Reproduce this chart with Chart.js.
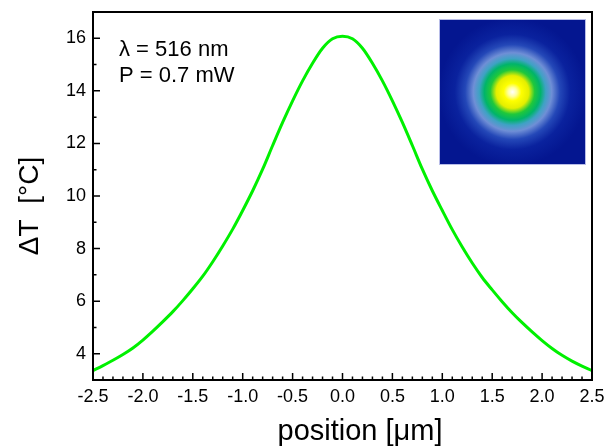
<!DOCTYPE html>
<html>
<head>
<meta charset="utf-8">
<script src="https://cdn.jsdelivr.net/npm/chart.js@4.4.1/dist/chart.umd.min.js"></script>
<style>
  html, body { margin: 0; padding: 0; background: #fff; }
  #wrap { width: 606px; height: 446px; }
</style>
</head>
<body>
<div id="wrap"><canvas id="myChart"></canvas></div>
<script>
// position in um
var positions = [-2.5, -2.4, -2.3, -2.2, -2.1, -2.0, -1.9, -1.8, -1.7, -1.6,
  -1.5, -1.4, -1.3, -1.2, -1.1, -1.0, -0.9, -0.8, -0.7, -0.6,
  -0.5, -0.4, -0.3, -0.2, -0.1, 0.0, 0.1, 0.2, 0.3, 0.4,
  0.5, 0.6, 0.7, 0.8, 0.9, 1.0, 1.1, 1.2, 1.3, 1.4,
  1.5, 1.6, 1.7, 1.8, 1.9, 2.0, 2.1, 2.2, 2.3, 2.4, 2.5];

// temperature rise in degC
var deltaT = [3.36, 3.55, 3.75, 3.97, 4.22, 4.52, 4.86, 5.22, 5.6, 6.02,
  6.47, 6.95, 7.5, 8.1, 8.74, 9.45, 10.2, 11.02, 11.92, 12.8,
  13.62, 14.38, 15.05, 15.62, 15.98, 16.08, 15.98, 15.62, 15.05, 14.38,
  13.62, 12.8, 11.92, 11.02, 10.2, 9.45, 8.72, 8.06, 7.45, 6.9,
  6.43, 5.98, 5.56, 5.18, 4.83, 4.5, 4.2, 3.94, 3.72, 3.53, 3.36];

var xTicks = [-2.5, -2.0, -1.5, -1.0, -0.5, 0.0, 0.5, 1.0, 1.5, 2.0, 2.5];
var yTicks = [4, 6, 8, 10, 12, 14, 16];

var notes = ['\u03bb = 516 nm', 'P = 0.7 mW'];

var points = positions.map(function (p, i) { return { x: p, y: deltaT[i] }; });

var FONT = '"Liberation Sans", Arial, sans-serif';

// frame, inward ticks, labels and the beam-profile inset
var decor = {
  id: 'decor',
  afterDraw: function (chart) {
    var ctx = chart.ctx;
    var a = chart.chartArea;
    var xs = chart.scales.x, ys = chart.scales.y;
    ctx.save();

    // inset image
    var ix = 439, iy = 19, iw = 147, ih = 146;
    var cx = ix + iw / 2, cy = iy + ih / 2;
    var g = ctx.createRadialGradient(cx, cy, 0, cx, cy, 74);
    g.addColorStop(0, '#ffffff');
    g.addColorStop(0.06, '#ffffa0');
    g.addColorStop(0.12, '#ffff00');
    g.addColorStop(0.22, '#e4ee00');
    g.addColorStop(0.3, '#20c83a');
    g.addColorStop(0.38, '#00b46a');
    g.addColorStop(0.45, '#3ea2c4');
    g.addColorStop(0.53, '#6f8fd6');
    g.addColorStop(0.64, '#2448b8');
    g.addColorStop(0.78, '#0a229e');
    g.addColorStop(1, '#041690');
    ctx.fillStyle = g;
    ctx.fillRect(ix, iy, iw, ih);
    ctx.strokeStyle = '#b8bde8';
    ctx.lineWidth = 1;
    ctx.strokeRect(ix + 0.5, iy + 0.5, iw - 1, ih - 1);

    // frame
    ctx.strokeStyle = '#000';
    ctx.lineWidth = 2;
    ctx.strokeRect(a.left, a.top, a.right - a.left, a.bottom - a.top);

    // x ticks, minor every 0.1
    ctx.lineWidth = 1.5;
    ctx.beginPath();
    for (var k = -25; k <= 25; k++) {
      var px = xs.getPixelForValue(k / 10);
      var len = (k % 5 === 0) ? 7 : 3.5;
      ctx.moveTo(px, a.bottom);
      ctx.lineTo(px, a.bottom - len);
    }
    // y ticks, minor every 1
    for (var v = 4; v <= 16; v++) {
      var py = ys.getPixelForValue(v);
      var l2 = (v % 2 === 0) ? 7 : 3.5;
      ctx.moveTo(a.left, py);
      ctx.lineTo(a.left + l2, py);
    }
    ctx.stroke();

    // annotation
    ctx.fillStyle = '#000';
    ctx.font = '22px ' + FONT;
    ctx.textAlign = 'left';
    ctx.textBaseline = 'middle';
    ctx.fillText(notes[0], 119, 50);
    ctx.fillText(notes[1], 119, 76);

    // x title
    ctx.textAlign = 'center';
    ctx.textBaseline = 'alphabetic';
    ctx.font = '29px ' + FONT;
    ctx.fillText('position [\u03bcm]', 360, 440);

    // y title
    ctx.translate(38, 206);
    ctx.rotate(-Math.PI / 2);
    ctx.font = '28px ' + FONT;
    ctx.fillText('\u0394T  [\u00b0C]', 0, 0);
    ctx.restore();
  }
};

function noEdgePad(s) {
  s.paddingLeft = 0;
  s.paddingRight = 0;
  s.paddingTop = 0;
  s.paddingBottom = 0;
}

var myChart = new Chart(document.getElementById('myChart'), {
  type: 'line',
  data: {
    datasets: [{
      data: points,
      borderColor: '#00f000',
      borderWidth: 3,
      pointRadius: 0,
      cubicInterpolationMode: 'monotone',
      fill: false
    }]
  },
  options: {
    responsive: true,
    maintainAspectRatio: false,
    animation: false,
    layout: { padding: { top: 12, right: 14, left: 0, bottom: 0 } },
    plugins: { legend: { display: false }, tooltip: { enabled: false } },
    scales: {
      x: {
        type: 'linear',
        min: -2.5,
        max: 2.5,
        grid: { display: false, drawTicks: false },
        border: { display: false },
        afterBuildTicks: function (s) { s.ticks = xTicks.map(function (t) { return { value: t }; }); },
        afterFit: function (s) { s.height = 66; noEdgePad(s); },
        ticks: {
          color: '#000',
          padding: 6,
          maxRotation: 0,
          font: { family: FONT, size: 18 },
          callback: function (v) { return v.toFixed(1); }
        }
      },
      y: {
        min: 3,
        max: 17,
        grid: { display: false, drawTicks: false },
        border: { display: false },
        afterBuildTicks: function (s) { s.ticks = yTicks.map(function (t) { return { value: t }; }); },
        afterFit: function (s) { s.width = 93; noEdgePad(s); },
        ticks: {
          color: '#000',
          padding: 7,
          font: { family: FONT, size: 18 }
        }
      }
    }
  },
  plugins: [decor]
});
</script>
</body>
</html>
